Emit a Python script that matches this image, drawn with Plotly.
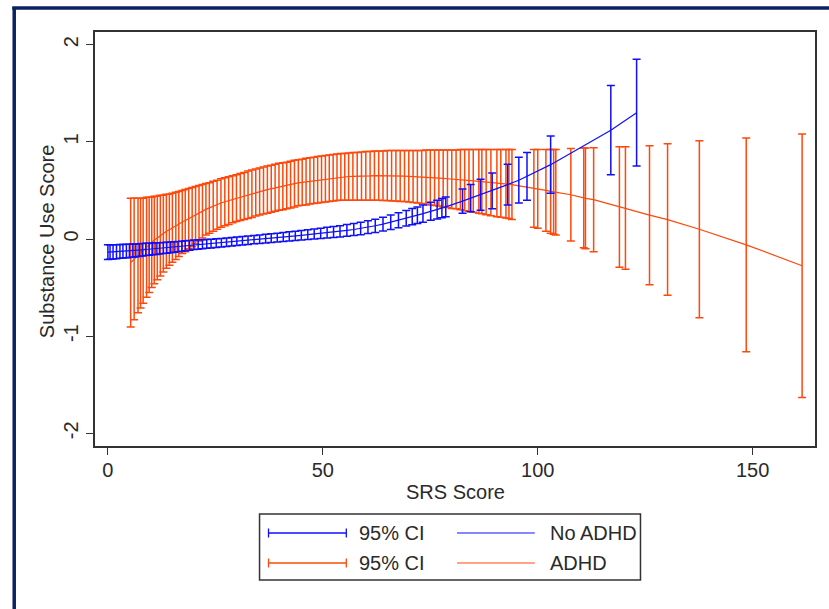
import plotly.graph_objects as go

# ---------------- data ----------------
# No ADHD: SRS score, predicted substance use score, 95% CI half-width
noadhd_x = [0, 0.5, 1.2, 2, 2.8, 3.5, 4.3, 5, 5.8, 6.5, 7.3, 8, 8.8, 9.6, 10.4, 11.2, 12, 12.9,
            13.7, 14.6, 15.4, 16.3, 17.2, 18, 19, 20, 21, 22, 23, 24, 25.2, 26.4, 27.6, 28.8,
            30, 31.3, 32.6, 34, 35.3, 36.7, 38, 39.4, 40.8, 42.2, 43.6, 45, 46.5, 48, 49.5, 51,
            52.5, 54, 55.6, 57.2, 58.8, 60.5, 62.2, 64, 65.8, 67.6, 69.4, 70.8, 72, 73.3, 75.1,
            76.6, 77.7, 78.6, 82.5, 84.4, 86.7, 89.4, 93, 95.6, 97.5, 103, 117, 123]
noadhd_fit = [-0.135, -0.134, -0.132, -0.130, -0.128, -0.126, -0.124, -0.122, -0.119, -0.117,
              -0.114, -0.111, -0.108, -0.105, -0.102, -0.099, -0.096, -0.093, -0.090, -0.086,
              -0.082, -0.078, -0.074, -0.070, -0.065, -0.060, -0.057, -0.054, -0.050, -0.047,
              -0.042, -0.038, -0.033, -0.028, -0.023, -0.018, -0.013, -0.007, -0.002, 0.004,
              0.009, 0.015, 0.021, 0.027, 0.033, 0.038, 0.045, 0.051, 0.058, 0.065, 0.072,
              0.079, 0.088, 0.098, 0.109, 0.122, 0.136, 0.153, 0.172, 0.192, 0.213, 0.230,
              0.245, 0.261, 0.285, 0.303, 0.317, 0.330, 0.390, 0.420, 0.455, 0.495, 0.560,
              0.605, 0.645, 0.765, 1.120, 1.300]
noadhd_ci = [0.075, 0.074, 0.073, 0.072, 0.071, 0.070, 0.069, 0.068, 0.067, 0.066, 0.065, 0.064,
             0.063, 0.062, 0.061, 0.060, 0.058, 0.057, 0.056, 0.055, 0.054, 0.053, 0.052, 0.051,
             0.050, 0.049, 0.048, 0.047, 0.046, 0.045, 0.045, 0.044, 0.044, 0.043, 0.043, 0.043,
             0.043, 0.043, 0.044, 0.044, 0.045, 0.045, 0.046, 0.047, 0.048, 0.049, 0.050, 0.052,
             0.053, 0.055, 0.056, 0.058, 0.060, 0.062, 0.064, 0.066, 0.068, 0.071, 0.074, 0.077,
             0.080, 0.083, 0.085, 0.088, 0.092, 0.096, 0.099, 0.102, 0.125, 0.140, 0.160, 0.185,
             0.210, 0.235, 0.245, 0.295, 0.460, 0.550]

# ADHD: SRS score, predicted substance use score, 95% CI half-width
adhd_x = [5.3, 6.1, 7.0, 7.6, 8.2, 9.0, 9.6, 10.2, 10.8, 11.5, 12.2, 12.9, 13.6, 14.3, 15.0, 15.8,
          16.5, 17.3, 18.0, 18.8, 19.6, 20.4, 21.2, 22.0, 22.8, 23.6, 24.5, 25.4, 26.3, 27.2, 28.1,
          29.0, 29.9, 30.8, 31.7, 32.6, 33.5, 34.4, 35.3, 36.2, 37.1, 38.0, 38.9, 39.8, 40.7, 41.6,
          42.5, 43.4, 44.3, 45.2, 46.1, 47.0, 47.9, 48.8, 49.7, 50.6, 51.5, 52.4, 53.3, 54.2, 55.1,
          56.0, 57, 58, 59, 60, 61, 62, 63, 64, 65, 66, 67, 68, 69, 70, 71, 72, 73, 74, 75, 76, 77,
          78, 79, 80, 81, 82, 83, 84, 85, 86.3, 87, 88, 89.1, 90.5, 91.4, 92.6, 93.3, 94.0, 99.1,
          100.0, 101.9, 103.0, 103.7, 104.2, 107.7, 110.7, 111.1, 113.0, 119.0, 120.4, 126.0,
          130.2, 137.6, 148.5, 161.5]
adhd_fit = [-0.243, -0.205, -0.17, -0.145, -0.12, -0.085, -0.06, -0.035, -0.01, 0.01, 0.035, 0.055,
            0.08, 0.095, 0.115, 0.135, 0.155, 0.175, 0.19, 0.21, 0.225, 0.245, 0.265, 0.285, 0.305,
            0.32, 0.338, 0.353, 0.37, 0.383, 0.395, 0.408, 0.42, 0.433, 0.443, 0.455, 0.465, 0.478,
            0.488, 0.498, 0.508, 0.518, 0.528, 0.538, 0.543, 0.55, 0.56, 0.57, 0.578, 0.583, 0.59,
            0.598, 0.603, 0.61, 0.615, 0.62, 0.625, 0.63, 0.635, 0.64, 0.64, 0.643, 0.645, 0.645,
            0.648, 0.65, 0.65, 0.653, 0.653, 0.65, 0.653, 0.65, 0.65, 0.648, 0.648, 0.645, 0.643,
            0.64, 0.638, 0.638, 0.633, 0.63, 0.628, 0.623, 0.62, 0.615, 0.613, 0.61, 0.605, 0.603,
            0.598, 0.593, 0.59, 0.585, 0.58, 0.575, 0.573, 0.568, 0.565, 0.56, 0.52, 0.515, 0.50,
            0.49, 0.485, 0.48, 0.455, 0.423, 0.418, 0.405, 0.33, 0.32, 0.245, 0.20, 0.10, -0.06,
            -0.275]
adhd_ci = [0.663, 0.625, 0.59, 0.565, 0.54, 0.515, 0.49, 0.465, 0.45, 0.43, 0.415, 0.395, 0.38,
           0.365, 0.355, 0.345, 0.335, 0.325, 0.32, 0.31, 0.305, 0.295, 0.285, 0.275, 0.265, 0.26,
           0.257, 0.252, 0.25, 0.247, 0.245, 0.242, 0.24, 0.242, 0.242, 0.245, 0.245, 0.242, 0.242,
           0.242, 0.242, 0.242, 0.242, 0.242, 0.242, 0.24, 0.24, 0.24, 0.237, 0.237, 0.24, 0.237,
           0.237, 0.24, 0.24, 0.24, 0.24, 0.24, 0.24, 0.24, 0.24, 0.243, 0.245, 0.245, 0.248, 0.25,
           0.25, 0.253, 0.253, 0.255, 0.258, 0.26, 0.26, 0.263, 0.263, 0.265, 0.268, 0.27, 0.273,
           0.278, 0.283, 0.285, 0.288, 0.293, 0.295, 0.30, 0.303, 0.31, 0.315, 0.318, 0.323, 0.328,
           0.33, 0.335, 0.34, 0.345, 0.348, 0.353, 0.355, 0.36, 0.40, 0.405, 0.42, 0.43, 0.435,
           0.44, 0.475, 0.513, 0.518, 0.535, 0.62, 0.63, 0.715, 0.78, 0.91, 1.10, 1.355]

x_ticks = [0, 50, 100, 150]
y_ticks = [-2, -1, 0, 1, 2]
y_ticktext = ["-2", "-1", "0", "1", "2"]
legend_labels = ["95% CI", "No ADHD", "95% CI", "ADHD"]

# ---------------- styling ----------------
BLUE = "rgb(15,15,255)"
ORANGE = "rgb(255,72,10)"
TXT = "#2a2a2a"
FONT = "Liberation Sans, Arial, Helvetica, sans-serif"

W, H = 829, 609
ML, MR, MT, MB = 95, 12, 32, 163
PW, PH = W - ML - MR, H - MT - MB


def px(x):
    return (x - ML) / PW


def py(y):
    return (H - MB - y) / PH


fig = go.Figure()

fig.add_trace(go.Scatter(
    x=adhd_x, y=adhd_fit, mode="markers",
    marker=dict(size=1, color="rgba(0,0,0,0)"),
    error_y=dict(type="data", array=adhd_ci, symmetric=True, color=ORANGE,
                 thickness=1.5, width=4),
    hoverinfo="skip"))
fig.add_trace(go.Scatter(x=adhd_x, y=adhd_fit, mode="lines",
                         line=dict(color=ORANGE, width=1.2)))
fig.add_trace(go.Scatter(
    x=noadhd_x, y=noadhd_fit, mode="markers",
    marker=dict(size=1, color="rgba(0,0,0,0)"),
    error_y=dict(type="data", array=noadhd_ci, symmetric=True, color=BLUE,
                 thickness=1.5, width=4),
    hoverinfo="skip"))
fig.add_trace(go.Scatter(x=noadhd_x, y=noadhd_fit, mode="lines",
                         line=dict(color=BLUE, width=1.2)))

axis_common = dict(showgrid=False, zeroline=False, showline=True, linecolor="#333333",
                   linewidth=2, mirror=True, ticks="outside", ticklen=7, tickwidth=1.3,
                   tickcolor="#333333", tickfont=dict(family=FONT, size=20, color=TXT))
fig.update_xaxes(range=[-3.0, 164.5], tickvals=x_ticks, ticklabelstandoff=-2, **axis_common)
fig.update_yaxes(range=[-2.13, 2.13], tickvals=y_ticks, ticktext=y_ticktext,
                 tickangle=-90, **axis_common)

shapes = []
# outer navy frame (left and top)
shapes.append(dict(type="line", xref="paper", yref="paper", x0=px(14), x1=px(14),
                   y0=py(7), y1=py(612), line=dict(color="#0b2261", width=3.5)))
shapes.append(dict(type="line", xref="paper", yref="paper", x0=px(12), x1=px(832),
                   y0=py(8), y1=py(8), line=dict(color="#0b2261", width=3.5)))
# legend box
shapes.append(dict(type="rect", xref="paper", yref="paper", x0=px(260), x1=px(642),
                   y0=py(514), y1=py(580), line=dict(color="#333333", width=1.5),
                   fillcolor="white"))
rows = [533, 563]
colors = [BLUE, ORANGE]
annotations = []
for r, c in zip(rows, colors):
    # capped CI symbol
    shapes.append(dict(type="line", xref="paper", yref="paper", x0=px(269), x1=px(347),
                       y0=py(r), y1=py(r), line=dict(color=c, width=1.3)))
    for cx in (269, 347):
        shapes.append(dict(type="line", xref="paper", yref="paper", x0=px(cx), x1=px(cx),
                           y0=py(r - 4.5), y1=py(r + 4.5), line=dict(color=c, width=1.3)))
    # line symbol
    shapes.append(dict(type="line", xref="paper", yref="paper", x0=px(458), x1=px(536),
                       y0=py(r), y1=py(r), line=dict(color=c, width=1.1)))

for i, r in enumerate(rows):
    annotations.append(dict(text=legend_labels[2 * i], x=px(358), y=py(r), xref="paper",
                            yref="paper", xanchor="left", yanchor="middle", showarrow=False,
                            font=dict(family=FONT, size=20, color=TXT)))
    annotations.append(dict(text=legend_labels[2 * i + 1], x=px(549), y=py(r), xref="paper",
                            yref="paper", xanchor="left", yanchor="middle", showarrow=False,
                            font=dict(family=FONT, size=20, color=TXT)))

annotations.append(dict(text="SRS Score", x=px(457), y=py(492), xref="paper", yref="paper",
                        xanchor="center", yanchor="middle", showarrow=False,
                        font=dict(family=FONT, size=20, color=TXT)))
annotations.append(dict(text="Substance Use Score", x=px(47), y=py(242), xref="paper",
                        yref="paper", xanchor="center", yanchor="middle", showarrow=False,
                        textangle=-90, font=dict(family=FONT, size=20, color=TXT)))

fig.update_layout(width=W, height=H, margin=dict(l=ML, r=MR, t=MT, b=MB),
                  plot_bgcolor="white", paper_bgcolor="white", showlegend=False,
                  shapes=shapes, annotations=annotations,
                  font=dict(family=FONT, size=20, color=TXT))

fig.write_html("out.html")
